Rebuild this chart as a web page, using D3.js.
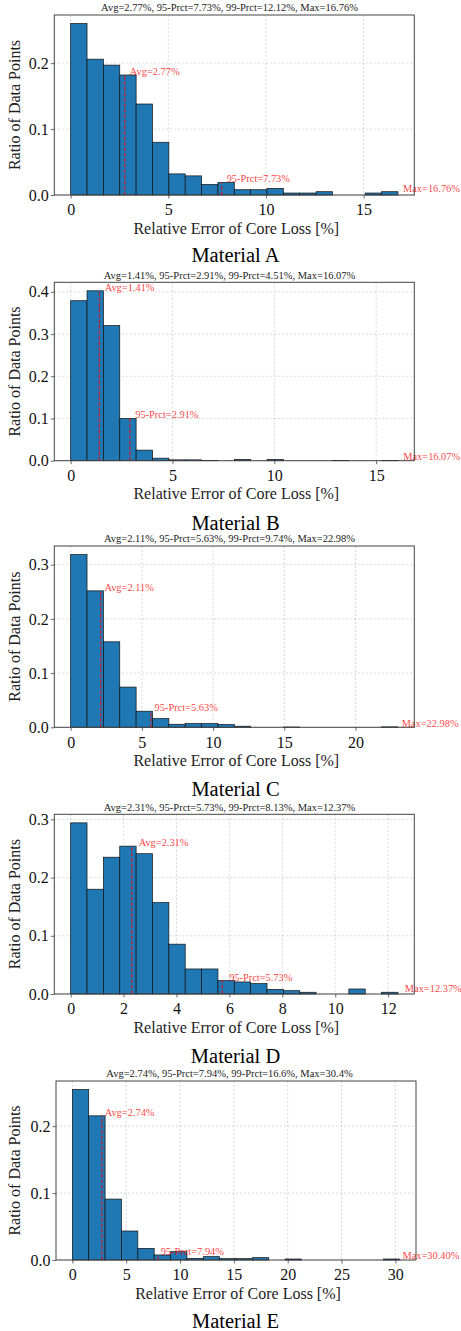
<!DOCTYPE html>
<html>
<head>
<meta charset="utf-8">
<script src="https://cdn.jsdelivr.net/npm/d3@7"></script>
<style>
  html, body { margin: 0; padding: 0; background: #fff; }
  svg { display: block; font-family: "Liberation Serif", "Times New Roman", serif; }
</style>
</head>
<body>
<script>
// ---------------- DATA ----------------
const materialNames = ["Material A", "Material B", "Material C", "Material D", "Material E"];
const avgErr = [2.77, 1.41, 2.11, 2.31, 2.74];
const p95Err = [7.73, 2.91, 5.63, 5.73, 7.94];
const p99Err = [12.12, 4.51, 9.74, 8.13, 16.6];
const maxErr = [16.76, 16.07, 22.98, 12.37, 30.4];

// ratio of data points per bin (20 equal bins from 0 to max error)
const ratioA = [0.260, 0.206, 0.197, 0.182, 0.138, 0.080, 0.032, 0.029, 0.016, 0.019, 0.008, 0.008, 0.010, 0.003, 0.003, 0.005, 0, 0, 0.003, 0.005];
const ratioB = [0.379, 0.4025, 0.320, 0.100, 0.025, 0.006, 0.002, 0.002, 0.0004, 0, 0.003, 0, 0.003, 0, 0, 0, 0.0004, 0, 0, 0.0008];
const ratioC = [0.3185, 0.2517, 0.1577, 0.0742, 0.0297, 0.016, 0.0056, 0.0068, 0.0068, 0.005, 0.002, 0, 0, 0.0005, 0, 0, 0, 0, 0, 0.0008];
const ratioD = [0.294, 0.180, 0.235, 0.254, 0.241, 0.157, 0.0856, 0.043, 0.043, 0.023, 0.0207, 0.0178, 0.008, 0.0057, 0.003, 0, 0, 0.0086, 0, 0.003];
const ratioE = [0.2547, 0.2154, 0.091, 0.0433, 0.0174, 0.0075, 0.0124, 0.0025, 0.005, 0.002, 0.002, 0.0035, 0, 0.0015, 0, 0, 0, 0, 0, 0.0015];

const xTicksA = [0, 5, 10, 15];
const xTicksB = [0, 5, 10, 15];
const xTicksC = [0, 5, 10, 15, 20];
const xTicksD = [0, 2, 4, 6, 8, 10, 12];
const xTicksE = [0, 5, 10, 15, 20, 25, 30];

const yTicksA = [0, 0.1, 0.2];
const yTicksB = [0, 0.1, 0.2, 0.3, 0.4];
const yTicksC = [0, 0.1, 0.2, 0.3];
const yTicksD = [0, 0.1, 0.2, 0.3];
const yTicksE = [0, 0.1, 0.2];

const xLabel = "Relative Error of Core Loss [%]";
const yLabel = "Ratio of Data Points";

const ratios = [ratioA, ratioB, ratioC, ratioD, ratioE];
const xTicks = [xTicksA, xTicksB, xTicksC, xTicksD, xTicksE];
const yTicks = [yTicksA, yTicksB, yTicksC, yTicksD, yTicksE];

// ---------------- LAYOUT ----------------
const W = 461, H = 1331;
const axLeft = [54.3, 54.3, 54.3, 54.3, 56];
const axTop = [15, 282.3, 546, 814.3, 1081];
const axW = 360, axH = [180, 178.4, 181.3, 179.7, 179];
const captionCenter = [255, 523, 789, 1056.7, 1321.7];
const nBins = 20;
const labelOffset = 0.26; // data units to the right of the marker line

const svg = d3.select("body").append("svg").attr("width", W).attr("height", H);

for (let i = 0; i < 5; i++) {
  const data = ratios[i];
  const mx = maxErr[i];
  const edges = d3.range(nBins + 1).map(k => k * mx / nBins);
  const x = d3.scaleLinear().domain([-0.05 * mx, 1.05 * mx]).range([0, axW]);
  const y = d3.scaleLinear().domain([0, 1.05 * d3.max(data)]).range([axH[i], 0]);

  const g = svg.append("g").attr("transform", `translate(${axLeft[i]},${axTop[i]})`);

  // grid
  g.append("g").selectAll("line.gx").data(xTicks[i]).join("line")
    .attr("x1", d => x(d)).attr("x2", d => x(d)).attr("y1", 0).attr("y2", axH[i])
    .attr("stroke", "#bdbdbd").attr("stroke-width", 0.6).attr("stroke-dasharray", "2,2");
  g.append("g").selectAll("line.gy").data(yTicks[i]).join("line")
    .attr("x1", 0).attr("x2", axW).attr("y1", d => y(d)).attr("y2", d => y(d))
    .attr("stroke", "#bdbdbd").attr("stroke-width", 0.6).attr("stroke-dasharray", "2,2");

  // bars
  g.append("g").selectAll("rect").data(data).join("rect")
    .attr("x", (d, k) => x(edges[k]))
    .attr("width", (d, k) => x(edges[k + 1]) - x(edges[k]))
    .attr("y", d => y(d))
    .attr("height", d => axH[i] - y(d))
    .attr("fill", "#1f77b4")
    .attr("stroke", "#111")
    .attr("stroke-width", 0.7);

  // markers
  const binOf = v => Math.min(nBins - 1, Math.floor(v / (mx / nBins)));
  const markers = [
    { v: avgErr[i], label: `Avg=${avgErr[i].toFixed(2)}%`, line: true },
    { v: p95Err[i], label: `95-Prct=${p95Err[i].toFixed(2)}%`, line: true },
    { v: maxErr[i], label: `Max=${maxErr[i].toFixed(2)}%`, line: false }
  ];
  markers.forEach(m => {
    const h = data[binOf(m.v)];
    if (m.line) {
      g.append("line")
        .attr("x1", x(m.v)).attr("x2", x(m.v))
        .attr("y1", y(0)).attr("y2", y(h))
        .attr("stroke", "red").attr("stroke-opacity", 0.75)
        .attr("stroke-width", 1.3).attr("stroke-dasharray", "3.5,2");
    }
    g.append("text")
      .attr("x", x(m.v + labelOffset)).attr("y", y(h))
      .attr("fill", "red").attr("fill-opacity", 0.78)
      .attr("font-size", 10.4)
      .text(m.label);
  });

  // axes
  const xa = g.append("g").attr("transform", `translate(0,${axH[i]})`)
    .call(d3.axisBottom(x).tickValues(xTicks[i]).tickFormat(d3.format("d")).tickSize(3.5).tickPadding(5.5));
  const ya = g.append("g")
    .call(d3.axisLeft(y).tickValues(yTicks[i]).tickFormat(d3.format(".1f")).tickSize(3.5).tickPadding(2));
  [xa, ya].forEach(a => {
    a.attr("font-family", "Liberation Serif");
    a.select(".domain").remove();
    a.selectAll("line").attr("stroke", "#444").attr("stroke-width", 0.8);
    a.selectAll("text").attr("font-family", "Liberation Serif").attr("font-size", 16).attr("fill", "#111");
  });

  // frame
  g.append("rect").attr("x", 0).attr("y", 0).attr("width", axW).attr("height", axH[i])
    .attr("fill", "none").attr("stroke", "#444").attr("stroke-width", 1);

  // title
  svg.append("text")
    .attr("x", 229.5).attr("y", axTop[i] - 3.6)
    .attr("text-anchor", "middle").attr("font-size", 10.5).attr("fill", "#222")
    .text(`Avg=${avgErr[i]}%, 95-Prct=${p95Err[i]}%, 99-Prct=${p99Err[i]}%, Max=${maxErr[i]}%`);

  // axis labels
  g.append("text")
    .attr("x", axW / 2 + 2).attr("y", axH[i] + 38.6)
    .attr("text-anchor", "middle").attr("font-size", 16).attr("fill", "#222")
    .text(xLabel);
  svg.append("text")
    .attr("transform", `translate(${15 + 5.3},${axTop[i] + axH[i] / 2}) rotate(-90)`)
    .attr("text-anchor", "middle").attr("font-size", 16).attr("fill", "#222")
    .text(yLabel);

  // caption
  svg.append("text")
    .attr("x", 235.5).attr("y", captionCenter[i] + 0.331 * 20.5)
    .attr("text-anchor", "middle").attr("font-size", 20.5).attr("fill", "#000")
    .text(materialNames[i]);
}
</script>
</body>
</html>
